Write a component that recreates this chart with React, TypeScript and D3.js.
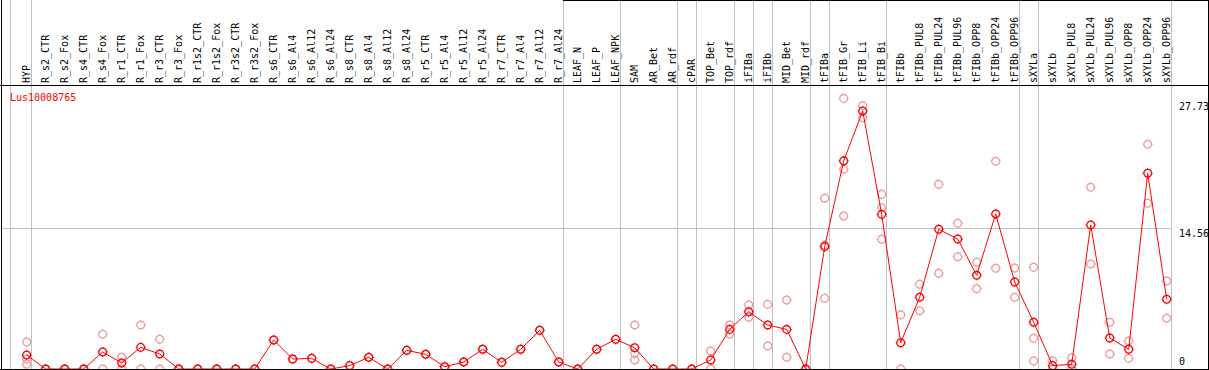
import React from "react";
import * as d3 from "d3";

const categories: string[] = [
  "HYP", "R_s2_CTR", "R_s2_Fox", "R_s4_CTR", "R_s4_Fox", "R_r1_CTR", "R_r1_Fox", "R_r3_CTR", "R_r3_Fox",
  "R_r1s2_CTR", "R_r1s2_Fox", "R_r3s2_CTR", "R_r3s2_Fox", "R_s6_CTR", "R_s6_Al4", "R_s6_Al12", "R_s6_Al24",
  "R_s8_CTR", "R_s8_Al4", "R_s8_Al12", "R_s8_Al24", "R_r5_CTR", "R_r5_Al4", "R_r5_Al12", "R_r5_Al24",
  "R_r7_CTR", "R_r7_Al4", "R_r7_Al12", "R_r7_Al24", "LEAF_N", "LEAF_P", "LEAF_NPK", "SAM", "AR_Bet", "AR_rdf",
  "cPAR", "TOP_Bet", "TOP_rdf", "iFIBa", "iFIBb", "MID_Bet", "MID_rdf", "tFIBa", "tFIB_Gr", "tFIB_Li", "tFIB_Bi",
  "tFIBb", "tFIBb_PUL8", "tFIBb_PUL24", "tFIBb_PUL96", "tFIBb_OPP8", "tFIBb_OPP24", "tFIBb_OPP96",
  "sXYLa", "sXYLb", "sXYLb_PUL8", "sXYLb_PUL24", "sXYLb_PUL96", "sXYLb_OPP8", "sXYLb_OPP24", "sXYLb_OPP96",
];

// last category of each group (a grey separator is drawn after it)
const groupEnds: string[] = [
  "HYP", "R_r7_Al24", "LEAF_NPK", "AR_rdf", "cPAR", "TOP_rdf", "iFIBa", "iFIBb", "MID_rdf", "tFIBa",
  "tFIB_Bi", "tFIBb_OPP96", "sXYLa", "sXYLb_OPP96",
];

const means: number[] = [
  1.45, 0, 0, 0, 1.76, 0.62, 2.24, 1.55, 0,
  0, 0, 0, 0, 3.0, 1.03, 1.1, 0,
  0.35, 1.21, 0, 1.93, 1.52, 0.24, 0.72, 2.04,
  0.69, 2.04, 4.0, 0.72, 0, 2.04, 3.07, 2.2, 0, 0,
  0, 0.93, 4.1, 5.93, 4.55, 4.1, 0, 12.66, 21.53, 26.7, 16.0,
  2.72, 7.42, 14.46, 13.45, 9.7, 16.04, 9.0,
  4.83, 0.35, 0.49, 14.9, 3.21, 2.04, 20.25, 7.21,
];

const replicates: number[][] = [
  [2.8, 1.03, 0.49], [0, 0], [0, 0], [0, 0], [3.59, 0], [1.21, 0], [4.55, 0], [3.07, 0], [0, 0],
  [0, 0], [0, 0], [0, 0], [0, 0], [3.0], [1.03], [1.1], [0],
  [0.35], [1.21], [0], [1.93], [1.52], [0.24], [0.72], [2.04],
  [0.69], [2.04], [4.0], [0.72], [0], [2.04], [3.07], [4.55, 1.62, 0.93], [0], [0],
  [0], [1.86, 0], [4.55, 3.62], [6.62, 5.35], [6.69, 2.38], [7.14, 1.21], [0],
  [17.67, 12.83, 7.32], [28.0, 20.67, 15.83], [27.25, 26.0], [18.08, 16.69, 13.42],
  [5.6, 0], [8.77, 6.03], [19.11, 9.9], [15.08, 11.62], [11.04, 8.31], [21.49, 10.42], [10.45, 7.42],
  [10.52, 3.18, 0.83], [0.86, 0], [1.17, 0], [18.8, 10.87], [4.83, 1.55], [2.9, 1.1], [23.25, 17.15], [9.1, 5.25],
];

const yTickValues: number[] = [0, 14.56, 27.73];
const yTickLabels: string[] = ["0", "14.56", "27.73"];
const gridValues: number[] = [14.56];
const geneName = "Lus10008765";

const W = 1209;
const H = 370;
const FONT = "'DejaVu Sans Mono', 'Liberation Mono', monospace";
const RED = "#ff0000";
const LIGHT = "#ec9c9c";
const GREY = "#c0c0c0";

function Marker({ x, y, color }: { x: number; y: number; color: string }) {
  const r = 3.9;
  const t = 1.1;
  return (
    <g transform={`translate(${x},${y})`}>
      <circle r={r} fill="none" stroke={color} strokeWidth={1.3} />
      <path
        d={`M0,${-r - t}V${-r}M0,${r}V${r + t}M${-r - t},0H${-r}M${r},0H${r + t}`}
        stroke={color}
        strokeWidth={1}
      />
    </g>
  );
}

export default function App() {
  const x = d3.scalePoint<string>().domain(categories).range([26.7, 1166.7]);
  const y = d3.scaleLinear().domain([0, 27.73]).range([369, 101]);

  const line = d3
    .line<number>()
    .x((_, i) => x(categories[i]) as number)
    .y((d) => y(d));

  const plotTop = 85;
  const plotBottom = 369;

  return (
    <svg
      width={W}
      height={H}
      style={{ position: "absolute", left: 0, top: 0, background: "#fff" }}
      fontFamily={FONT}
    >
      <defs>
        <clipPath id="plotClip">
          <rect x={1} y={plotTop + 1} width={1207} height={plotBottom - plotTop - 1} />
        </clipPath>
      </defs>
      <rect x={0} y={0} width={W} height={H} fill="#fff" />

      {/* vertical group separators */}
      <line x1={10.5} x2={10.5} y1={0} y2={plotBottom} stroke={GREY} strokeWidth={1} />
      {groupEnds.map((g) => {
        const gx = Math.round((x(g) as number) + 4) + 0.5;
        return <line key={g} x1={gx} x2={gx} y1={0} y2={plotBottom} stroke={GREY} strokeWidth={1} />;
      })}

      {/* horizontal grid */}
      {gridValues.map((v) => {
        const gy = Math.round(y(v)) + 0.5;
        return <line key={v} x1={1} x2={1170.5} y1={gy} y2={gy} stroke={GREY} strokeWidth={1} />;
      })}

      {/* frame */}
      <line x1={0} x2={W} y1={plotTop + 0.5} y2={plotTop + 0.5} stroke="#000" strokeWidth={1} />
      <line x1={0} x2={W} y1={plotBottom + 0.5} y2={plotBottom + 0.5} stroke="#000" strokeWidth={1} />
      <line x1={1.5} x2={1.5} y1={0} y2={H} stroke="#000" strokeWidth={1} />
      <line x1={1208.5} x2={1208.5} y1={0} y2={H} stroke="#000" strokeWidth={1} />
      <line x1={563} x2={W} y1={0.5} y2={0.5} stroke="#000" strokeWidth={1} />

      {/* category labels */}
      {categories.map((c) => (
        <text
          key={c}
          transform={`translate(${(x(c) as number) + 3.5},83) rotate(-90)`}
          fontSize={10}
          fill="#000"
        >
          {c}
        </text>
      ))}

      {/* title */}
      <text x={10} y={101} fontSize={10} fill={RED}>
        {geneName}
      </text>

      {/* right axis labels */}
      {yTickValues.map((v, i) => {
        const ty = Math.min(y(v) + 9, 365);
        return (
          <text key={v} x={1179} y={ty} fontSize={10} fill="#000">
            {yTickLabels[i]}
          </text>
        );
      })}

      <g clipPath="url(#plotClip)">
        {replicates.map((reps, i) =>
          reps.map((v, j) => (
            <Marker key={`${i}-${j}`} x={x(categories[i]) as number} y={y(v)} color={LIGHT} />
          ))
        )}
        <path d={line(means) || ""} fill="none" stroke={RED} strokeWidth={1} />
        {means.map((v, i) => (
          <Marker key={i} x={x(categories[i]) as number} y={y(v)} color={RED} />
        ))}
      </g>
    </svg>
  );
}
